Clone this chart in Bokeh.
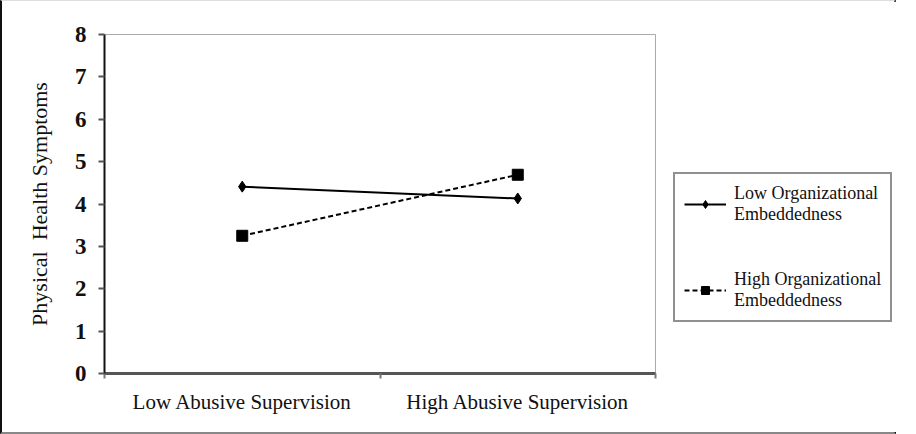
from bokeh.plotting import figure
from bokeh.models import Range1d, FixedTicker, Legend, LegendItem
from bokeh.embed import file_html
from bokeh.resources import INLINE

# Data
categories = ["Low Abusive Supervision", "High Abusive Supervision"]
low_oe = [4.41, 4.13]
high_oe = [3.25, 4.69]
y_ticks = [0, 1, 2, 3, 4, 5, 6, 7, 8]

FONT = "Liberation Serif"

xs = [i + 0.5 for i in range(len(categories))]

p = figure(frame_width=551, frame_height=339, output_backend="svg", toolbar_location=None,
           x_range=Range1d(0, len(categories)), y_range=Range1d(0, 8),
           min_border_left=102, min_border_right=243, min_border_top=33,
           min_border_bottom=59)
p.styles = {"width": "896px",
            "border-left": "2px solid #111", "border-right": "2px solid #111",
            "border-top": "1px solid #ddd", "border-bottom": "2px solid #888"}

p.xgrid.visible = False
p.ygrid.visible = False
p.outline_line_color = "#aaaaaa"
p.outline_line_width = 1

# x axis: labels at category centres, ticks between categories
p.xaxis.ticker = FixedTicker(ticks=xs, minor_ticks=[float(i) for i in range(len(categories) + 1)])
p.xaxis.major_label_overrides = {x: c for x, c in zip(xs, categories)}
p.xaxis.major_tick_line_color = None
p.xaxis.minor_tick_in = 0
p.xaxis.minor_tick_out = 5
p.xaxis.minor_tick_line_color = "#777777"
p.xaxis.minor_tick_line_width = 2
p.xaxis.axis_line_color = "#555555"
p.xaxis.axis_line_width = 3
p.xaxis.major_label_text_font = FONT
p.xaxis.major_label_text_font_size = "21px"
p.xaxis.major_label_text_color = "#111111"
p.xaxis.major_label_standoff = 10

# y axis
p.yaxis.ticker = FixedTicker(ticks=y_ticks)
p.yaxis.minor_tick_line_color = None
p.yaxis.major_tick_in = 0
p.yaxis.major_tick_out = 6
p.yaxis.major_tick_line_color = "#555555"
p.yaxis.major_tick_line_width = 2
p.yaxis.axis_line_color = "#111111"
p.yaxis.axis_line_width = 2
p.yaxis.major_label_text_font = FONT
p.yaxis.major_label_text_font_size = "23px"
p.yaxis.major_label_text_font_style = "bold"
p.yaxis.major_label_text_color = "#111111"
p.yaxis.major_label_standoff = 12
p.yaxis.axis_label = "Physical\u00a0 Health Symptoms"
p.yaxis.axis_label_text_font = FONT
p.yaxis.axis_label_text_font_size = "22px"
p.yaxis.axis_label_text_font_style = "normal"
p.yaxis.axis_label_text_color = "#111111"
p.yaxis.axis_label_standoff = 20

# series
l1 = p.line(xs, low_oe, line_color="black", line_width=2)
m1 = p.scatter(xs, low_oe, marker="diamond", size=11, fill_color="black", line_color="black")
l2 = p.line(xs, high_oe, line_color="black", line_width=2, line_dash="5 3")
m2 = p.scatter(xs, high_oe, marker="square", size=11, fill_color="black", line_color="black")

legend = Legend(items=[
    LegendItem(label="Low Organizational\nEmbeddedness", renderers=[l1, m1]),
    LegendItem(label="High Organizational\nEmbeddedness", renderers=[l2, m2]),
], location=(18, 51))
legend.border_line_color = "#222222"
legend.border_line_width = 2
legend.background_fill_color = "white"
legend.label_text_font = FONT
legend.label_text_font_size = "18px"
legend.label_text_color = "#111111"
legend.label_text_line_height = 1.15
legend.glyph_width = 42
legend.glyph_height = 20
legend.spacing = 44
legend.padding = 9
legend.margin = 0
legend.label_standoff = 8
p.add_layout(legend, "right")

open("out.html", "w").write(file_html(p, INLINE))
